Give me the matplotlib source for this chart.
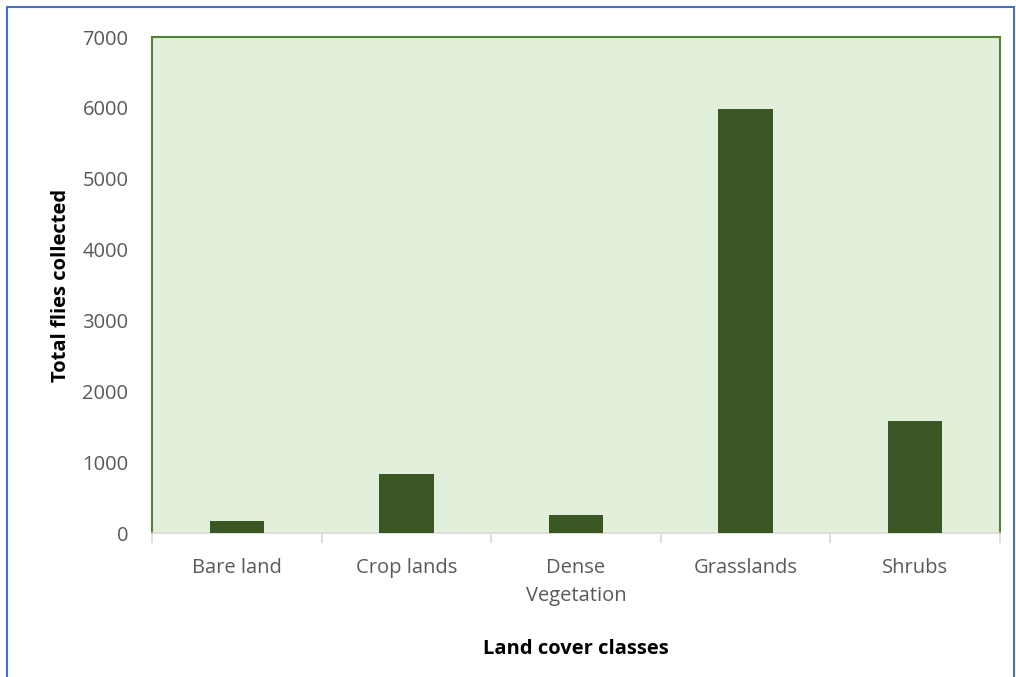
import numpy as np
import matplotlib.pyplot as plt
from matplotlib.patches import Rectangle

categories = ['Bare land', 'Crop lands', 'Dense\nVegetation', 'Grasslands', 'Shrubs']
flies = [170, 835, 255, 5990, 1575]
y_ticks = [0, 1000, 2000, 3000, 4000, 5000, 6000, 7000]

plt.rcParams['font.family'] = ['Open Sans', 'DejaVu Sans']

fig = plt.figure(figsize=(10.16, 6.77), dpi=100)
ax = fig.add_axes([0.1496, 0.2127, 0.8347, 0.7326])

x = np.arange(len(categories))
ax.bar(x, flies, width=0.32, color='#3A5723', zorder=3)

ax.set_facecolor('#E2EFDA')
ax.set_xlim(-0.5, len(categories) - 0.5)
ax.set_ylim(0, 7000)
ax.set_yticks(y_ticks)
ax.set_yticklabels([str(v) for v in y_ticks])

for side in ['left', 'top', 'right']:
    ax.spines[side].set_color('#548235')
    ax.spines[side].set_linewidth(1.5)
ax.spines['bottom'].set_color('#D9D9D9')
ax.spines['bottom'].set_linewidth(1.2)

# category labels centred, tick marks between categories
ax.set_xticks(np.arange(-0.5, len(categories)), minor=False)
ax.set_xticklabels([])
ax.set_xticks(x, minor=True)
labels = ax.set_xticklabels(categories, minor=True)
for lab in labels:
    lab.set_linespacing(1.5)
ax.tick_params(axis='x', which='major', length=7, width=1.2, color='#D9D9D9')
ax.tick_params(axis='x', which='minor', length=0, pad=18, labelsize=14.5, labelcolor='#595959')
ax.tick_params(axis='y', length=0, pad=17, labelsize=14.5, labelcolor='#595959')

ax.set_ylabel('Total flies collected', fontsize=14.5, fontweight='bold', labelpad=8)
ax.set_xlabel('Land cover classes', fontsize=14.5, fontweight='bold', labelpad=24)

fig.patches.append(Rectangle((7 / 1016, -0.05), 1007 / 1016, 1 - 7 / 677 + 0.05,
                             transform=fig.transFigure, fill=False,
                             edgecolor='#4472C4', linewidth=1.5))

fig.savefig('out.png', dpi=100)
